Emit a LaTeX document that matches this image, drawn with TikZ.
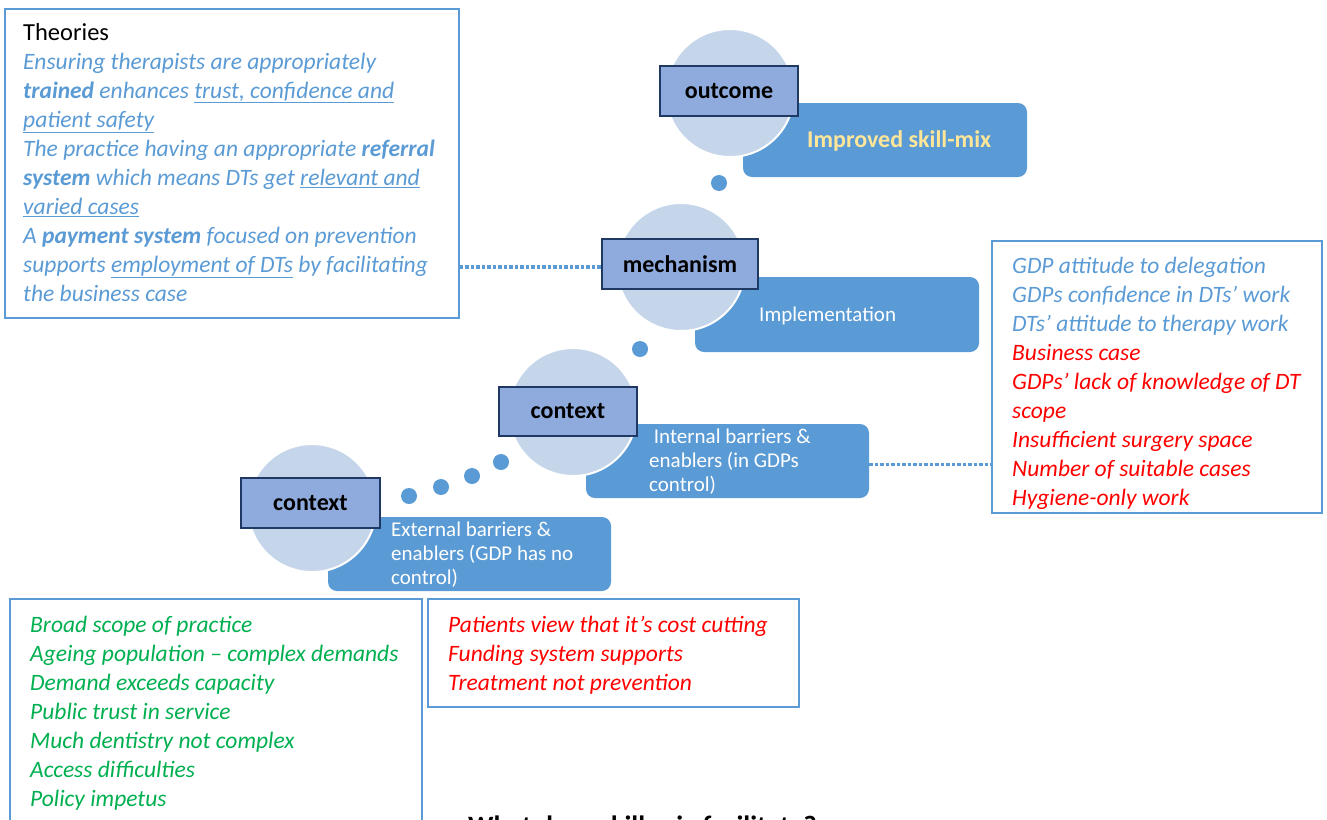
\documentclass[tikz,border=0pt]{standalone}
\usepackage{fontspec}
\setmainfont{Carlito}
\definecolor{boxblue}{RGB}{91,155,213}
\definecolor{circlefill}{RGB}{197,213,234}
\definecolor{labelfill}{RGB}{143,170,220}
\definecolor{labeldraw}{RGB}{32,56,100}
\definecolor{cream}{RGB}{255,230,153}
\definecolor{listgreen}{RGB}{0,176,80}
\definecolor{listred}{RGB}{255,0,0}
\usepackage{tikz}
\usetikzlibrary{positioning, calc}
\tikzset{
    listbox/.style={rectangle, draw=boxblue, line width=1.5pt, fill=white},
    listtext/.style={anchor=north west, inner sep=0pt, align=left, font=\fontsize{23.5}{29}\selectfont\itshape},
    stage/.style={circle, fill=circlefill, draw=white, line width=2pt, minimum size=128pt, inner sep=0pt},
    stagelabel/.style={rectangle, draw=labeldraw, line width=1.5pt, fill=labelfill, font=\fontsize{24}{29}\selectfont\bfseries},
    stagebox/.style={rectangle, rounded corners=9pt, fill=boxblue},
    stagetext/.style={inner sep=0pt, align=left, text=white, font=\fontsize{21}{24}\selectfont},
    link/.style={boxblue, line width=3.2pt, dash pattern=on 3.5pt off 2pt},
    stepdot/.style={circle, fill=boxblue, minimum size=16pt, inner sep=0pt}
}

\begin{document}
\begin{tikzpicture}[x=1pt, y=-1pt]
    \clip (0,0) rectangle (1327,819);

    % Text boxes
    \node[listbox, minimum width=454pt, minimum height=309pt] (theories) at (232,163.5) {};
    \node[listbox, minimum width=330pt, minimum height=272pt] (internalbox) at (1157,377) {};
    \node[listbox, minimum width=412pt, minimum height=242pt] (externalgood) at (216,720) {};
    \node[listbox, minimum width=371pt, minimum height=108pt] (externalbad) at (613.5,653) {};

    % Stage boxes
    \node[stagebox, minimum width=284pt, minimum height=74pt] (skillbox) at (885,140) {};
    \node[stagebox, minimum width=284pt, minimum height=75pt] (implbox) at (837,314.5) {};
    \node[stagebox, minimum width=283pt, minimum height=74pt] (innerbox) at (727.5,461) {};
    \node[stagebox, minimum width=283pt, minimum height=74pt] (outerbox) at (469.5,554) {};

    % Circles
    \node[stage] (outcomecirc) at (730,93) {};
    \node[stage] (mechcirc) at (681,267) {};
    \node[stage] (innercirc) at (573,412) {};
    \node[stage] (outercirc) at (312,508) {};

    % Stage labels
    \node[stagelabel, minimum width=138pt, minimum height=50pt] (outcome) at (729,91) {outcome};
    \node[stagelabel, minimum width=156pt, minimum height=50pt] (mechanism) at (680,264) {mechanism};
    \node[stagelabel, minimum width=138pt, minimum height=49pt] (innerctx) at (568,411.5) {context};
    \node[stagelabel, minimum width=139pt, minimum height=50pt] (outerctx) at (310.5,503) {context};

    % Dots between stages
    \node[stepdot] (dota) at (719,183) {};
    \node[stepdot] (dotb) at (640,349) {};
    \node[stepdot] (dotc) at (501,462) {};
    \node[stepdot] (dotd) at (472,476) {};
    \node[stepdot] (dote) at (441,487) {};
    \node[stepdot] (dotf) at (409,496) {};

    % Dotted links
    \draw[link] ([yshift=-3pt]theories.east |- mechanism.west) -- ([yshift=-3pt]mechanism.west);
    \draw[link] ([yshift=-3.5pt]innerbox.east) -- ([yshift=-3.5pt]internalbox.west |- innerbox.east);

    % Stage texts
    \node[anchor=base west, inner sep=0pt, text=cream, font=\fontsize{24}{29}\selectfont\bfseries] (skilltext) at (807,147) {Improved skill-mix};
    \node[stagetext, anchor=base west] (impltext) at (759,321) {Implementation};
    \node[stagetext, anchor=north west] (innertext) at (649,429) {\ Internal barriers \&\\enablers (in GDPs\\control)};
    \node[stagetext, anchor=north west] (outertext) at (391,522) {External barriers \&\\enablers (GDP has no\\control)};

    % List texts
    \node[listtext, text=boxblue] (theorytext) at (23,23) {{\upshape\color{black}\fontsize{24.5}{29}\selectfont Theories}\\
        Ensuring therapists are appropriately\\
        \textbf{trained} enhances \underline{trust, confidence and}\\
        \underline{patient safety}\\
        The practice having an appropriate \textbf{referral}\\
        \textbf{system} which means DTs get \underline{relevant and}\\
        \underline{varied cases}\\
        A \textbf{payment system} focused on prevention\\
        supports \underline{employment of DTs} by facilitating\\
        the business case};
    \node[listtext, text=listred] (internaltext) at (1012,257) {{\color{boxblue}GDP attitude to delegation}\\
        {\color{boxblue}GDPs confidence in DTs’ work}\\
        {\color{boxblue}DTs’ attitude to therapy work}\\
        Business case\\
        GDPs’ lack of knowledge of DT\\
        scope\\
        Insufficient surgery space\\
        Number of suitable cases\\
        Hygiene-only work};
    \node[listtext, text=listgreen] (goodtext) at (30,616) {Broad scope of practice\\
        Ageing population -- complex demands\\
        Demand exceeds capacity\\
        Public trust in service\\
        Much dentistry not complex\\
        Access difficulties\\
        Policy impetus};
    \node[listtext, text=listred] (badtext) at (448,616) {Patients view that it’s cost cutting\\
        Funding system supports\\
        Treatment not prevention};

    % Question below
    \node[anchor=base west, inner sep=0pt, font=\fontsize{28}{34}\selectfont\bfseries] (question) at (468,835) {What does skill-mix facilitate?};
\end{tikzpicture}
\end{document}
